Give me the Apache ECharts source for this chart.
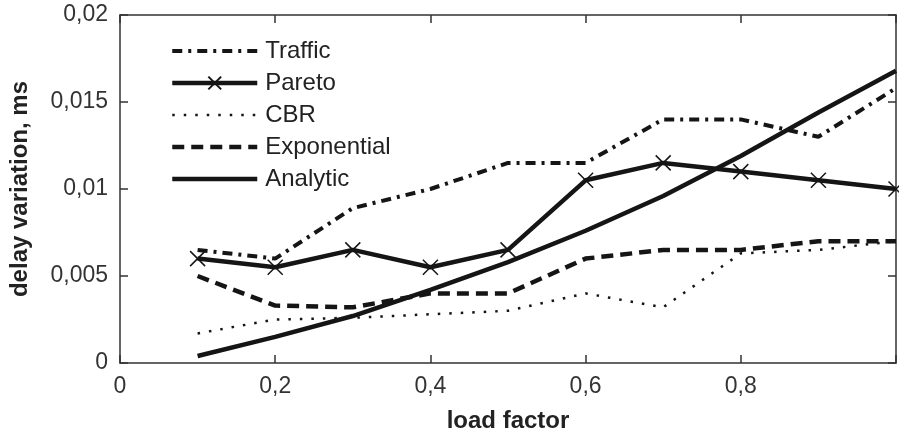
<!DOCTYPE html>
<html>
<head>
<meta charset="utf-8">
<script src="https://cdn.jsdelivr.net/npm/echarts@6/dist/echarts.min.js"></script>
<style>
  html, body { margin: 0; padding: 0; background: #fff; }
  #main { width: 899px; height: 438px; }
</style>
</head>
<body>
<div id="main"></div>
<script>
// load factor values (x)
var loadFactor = [0.1, 0.2, 0.3, 0.4, 0.5, 0.6, 0.7, 0.8, 0.9, 1.0];
// delay variation, ms
var traffic     = [0.0065, 0.0060, 0.0089, 0.0100, 0.0115, 0.0115, 0.0140, 0.0140, 0.0130, 0.0158];
var pareto      = [0.0060, 0.0055, 0.0065, 0.0055, 0.0065, 0.0105, 0.0115, 0.0110, 0.0105, 0.0100];
var cbr         = [0.0017, 0.0025, 0.0026, 0.0028, 0.0030, 0.0040, 0.0032, 0.0063, 0.0065, 0.0070];
var exponential = [0.0050, 0.0033, 0.0032, 0.0040, 0.0040, 0.0060, 0.0065, 0.0065, 0.0070, 0.0070];
var analytic    = [0.0004, 0.0015, 0.0027, 0.0042, 0.0058, 0.0076, 0.0096, 0.0119, 0.0144, 0.0168];
var seriesNames = ['Traffic', 'Pareto', 'CBR', 'Exponential', 'Analytic'];

function pairs(ys) {
    return loadFactor.map(function (x, i) { return [x, ys[i]]; });
}
function comma(v) {
    return String(v).replace('.', ',');
}

var ink = '#151515';
var font = 'Liberation Sans';
// frame line + inward ticks, used by all four sides
var frameLine = { show: true, onZero: false, lineStyle: { color: '#333', width: 1.5 } };
var frameTick = { show: true, inside: true, length: 8, lineStyle: { color: '#333', width: 1.5 } };

var myChart = echarts.init(document.getElementById('main'));
var option = {
    animation: false,
    backgroundColor: '#fff',
    grid: { left: 118, right: 1, top: 15, bottom: 74 },
    legend: {
        orient: 'vertical',
        left: 165,
        top: 34,
        itemWidth: 85,
        itemHeight: 16,
        itemGap: 8,
        lineStyle: { width: 'inherit' },
        // only Pareto has a marker, the other lines show no symbol
        data: seriesNames.map(function (n) {
            return n === 'Pareto' ? { name: n } : { name: n, itemStyle: { opacity: 0 } };
        }),
        textStyle: { fontFamily: font, fontSize: 24, color: '#222', padding: [0, 0, 0, 3] }
    },
    xAxis: [{
        type: 'value',
        min: 0, max: 1, interval: 0.2,
        name: 'load factor',
        nameLocation: 'middle',
        nameGap: 46,
        nameTextStyle: { fontFamily: font, fontSize: 24, fontWeight: 'bold', color: '#222' },
        axisLine: frameLine,
        axisTick: frameTick,
        axisLabel: {
            fontFamily: font, fontSize: 23, color: '#333', margin: 12,
            formatter: function (v) { return v === 1 ? '' : comma(v); }
        },
        splitLine: { show: false }
    }, {
        type: 'value',
        position: 'top',
        min: 0, max: 1, interval: 0.2,
        axisLine: frameLine,
        axisTick: frameTick,
        axisLabel: { show: false },
        splitLine: { show: false }
    }],
    yAxis: [{
        type: 'value',
        min: 0, max: 0.02, interval: 0.005,
        name: 'delay variation, ms',
        nameLocation: 'middle',
        nameGap: 88,
        nameTextStyle: { fontFamily: font, fontSize: 24, fontWeight: 'bold', color: '#222' },
        axisLine: frameLine,
        axisTick: frameTick,
        axisLabel: { fontFamily: font, fontSize: 23, color: '#333', margin: 12, formatter: comma },
        splitLine: { show: false }
    }, {
        type: 'value',
        position: 'right',
        min: 0, max: 0.02, interval: 0.005,
        axisLine: frameLine,
        axisTick: frameTick,
        axisLabel: { show: false },
        splitLine: { show: false }
    }],
    series: [{
        name: 'Traffic',
        type: 'line',
        symbol: 'none',
        data: pairs(traffic),
        lineStyle: { color: ink, width: 4, type: [10, 6, 3, 6] },
        itemStyle: { color: ink }
    }, {
        name: 'Pareto',
        type: 'line',
        symbol: 'path://M0,0L10,10M0,10L10,0',
        symbolSize: 15,
        data: pairs(pareto),
        lineStyle: { color: ink, width: 4.5 },
        itemStyle: { color: 'transparent', borderColor: ink, borderWidth: 1.5 }
    }, {
        name: 'CBR',
        type: 'line',
        symbol: 'none',
        data: pairs(cbr),
        lineStyle: { color: ink, width: 2.5, type: [2.5, 9] },
        itemStyle: { color: ink }
    }, {
        name: 'Exponential',
        type: 'line',
        symbol: 'none',
        data: pairs(exponential),
        lineStyle: { color: ink, width: 4.5, type: [12, 7] },
        itemStyle: { color: ink }
    }, {
        name: 'Analytic',
        type: 'line',
        symbol: 'none',
        data: pairs(analytic),
        lineStyle: { color: ink, width: 4.5 },
        itemStyle: { color: ink }
    }]
};
myChart.setOption(option);
</script>
</body>
</html>
